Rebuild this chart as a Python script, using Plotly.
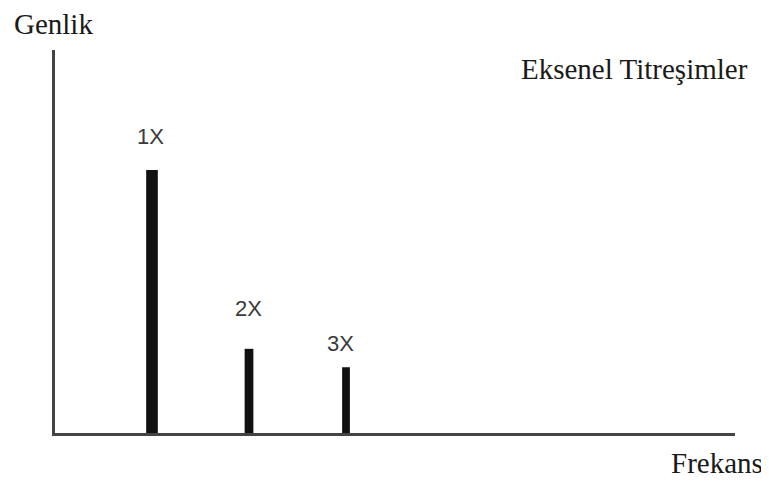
import plotly.graph_objects as go

harmonics = ["1X", "2X", "3X"]
frequency = [1, 2, 3]
amplitude = [1.0, 0.32, 0.25]
bar_width = [0.12, 0.09, 0.08]
label_dx = [-2, -1, -6]
label_dy = [33, 40, 24]

fig = go.Figure()
fig.add_trace(go.Bar(x=frequency, y=amplitude, width=bar_width,
                     marker=dict(color="#111111", line=dict(width=0)),
                     hoverinfo="skip"))

for h, f, a, dx, dy in zip(harmonics, frequency, amplitude, label_dx, label_dy):
    fig.add_annotation(x=f, y=a, text=h, showarrow=False, xshift=dx, yshift=dy,
                       font=dict(family="Liberation Sans, Arial", size=22, color="#3a3a3a"))

serif = "Liberation Serif, Times New Roman, serif"
fig.add_annotation(xref="paper", yref="paper", x=-0.0632, y=1.068, xanchor="left", yanchor="middle",
                   text="Genlik", showarrow=False, font=dict(family=serif, size=29, color="#1a1a1a"))
fig.add_annotation(xref="paper", yref="paper", x=1.022, y=0.950, xanchor="right", yanchor="middle",
                   text="Eksenel Titreşimler", showarrow=False, font=dict(family=serif, size=29, color="#1a1a1a"))
fig.add_annotation(xref="paper", yref="paper", x=1.044, y=-0.1253, xanchor="right", yanchor="bottom",
                   text="Frekans", showarrow=False, font=dict(family=serif, size=29, color="#1a1a1a"))

# the page body adds an 8px margin, so the figure is 8px smaller and its margins compensate
fig.update_layout(
    width=761, height=473,
    margin=dict(l=47, r=34, t=42, b=48),
    paper_bgcolor="white", plot_bgcolor="white",
    showlegend=False,
    xaxis=dict(range=[0, 7.01], showline=True, linecolor="#444444", linewidth=3,
               showgrid=False, zeroline=False, showticklabels=False, ticks=""),
    yaxis=dict(range=[0, 1.456], showline=True, linecolor="#444444", linewidth=3,
               showgrid=False, zeroline=False, showticklabels=False, ticks=""),
)

fig.write_html("out.html")
